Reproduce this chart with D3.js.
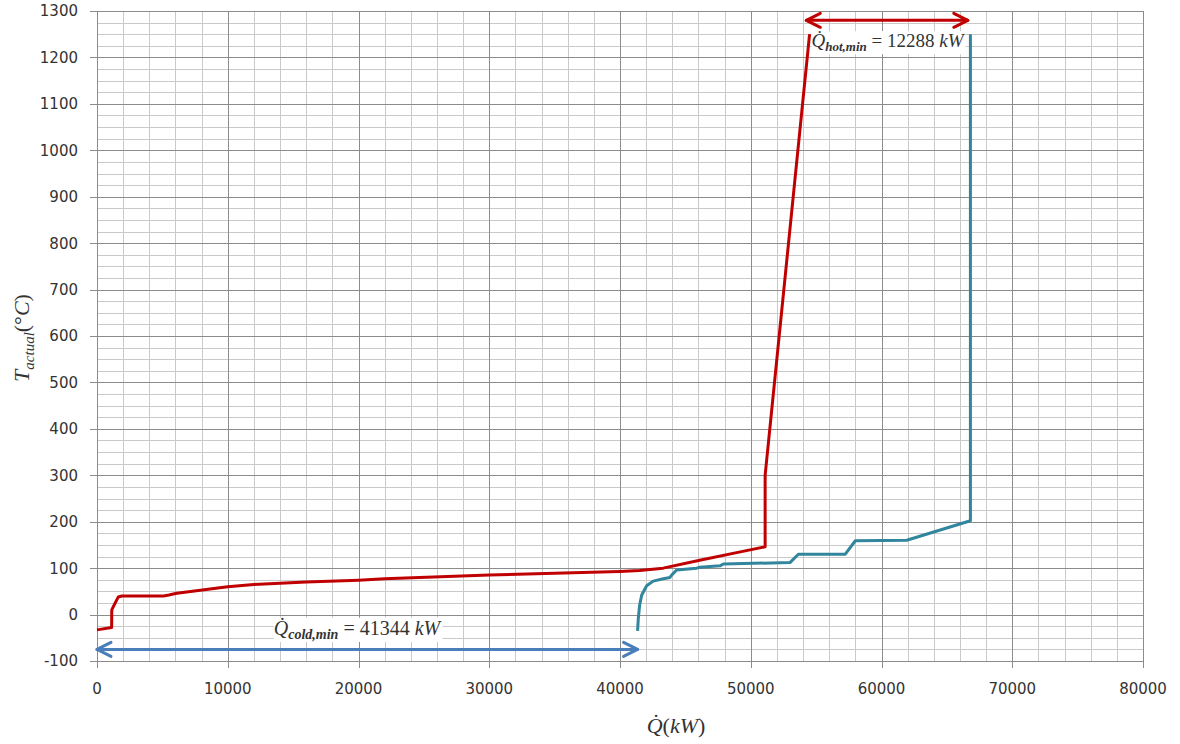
<!DOCTYPE html>
<html>
<head>
<meta charset="utf-8">
<script src="https://cdn.jsdelivr.net/npm/d3@7"></script>
<style>
  body { margin: 0; background: #fff; }
  svg { display: block; }
</style>
</head>
<body>
<div id="chart"></div>
<script>
// hot composite curve (kW, °C)
const hotQ = [0, 1120, 1130, 1250, 1630, 1900, 5100, 5500, 6100, 10000, 12000, 16000, 20000, 22000, 30000, 40000, 41500, 43300, 46100, 49200, 51100, 51100, 54500];
const hotT = [-33, -28, 10, 17, 38, 40, 40, 42, 46, 60, 65, 70, 74, 77, 85, 93, 95, 100, 117, 135, 146, 300, 1250];

// cold composite curve
const coldQ = [41344, 41400, 41500, 41660, 42040, 42540, 43310, 43820, 43950, 44330, 45860, 46120, 47650, 47900, 53000, 53640, 57230, 58000, 61930, 66800, 66800];
const coldT = [-35, -8, 20, 42, 62, 72, 77, 80, 85, 96, 100, 102, 105, 109, 112, 130, 130, 159, 160, 202, 1250];

const xTicks = [0, 10000, 20000, 30000, 40000, 50000, 60000, 70000, 80000];
const yTicks = [-100, 0, 100, 200, 300, 400, 500, 600, 700, 800, 900, 1000, 1100, 1200, 1300];

const hotMin = 12288, coldMin = 41344;
const hotArrowQ = [54250, 66600], hotArrowT = 1280;
const coldArrowQ = [0, 41344], coldArrowT = -75;

let margin = { top: 11, left: 97, right: 37, bottom: 83 },
  width = 1180 - margin.left - margin.right,
  height = 744 - margin.top - margin.bottom;

let svg = d3.select("#chart")
  .append("svg")
    .attr("width", 1180)
    .attr("height", 744);

let g = svg.append("g")
    .attr("transform", "translate(" + margin.left + "," + margin.top + ")");

let x = d3.scaleLinear().domain([0, 80000]).range([0, width]);
let y = d3.scaleLinear().domain([-100, 1300]).range([height, 0]);

// minor grid
g.append("g").selectAll("line")
  .data(d3.range(0, 80001, 2000).filter(d => d % 10000 !== 0))
  .enter().append("line")
    .attr("x1", d => Math.round(x(d)) + 0.5).attr("x2", d => Math.round(x(d)) + 0.5)
    .attr("y1", 0).attr("y2", height)
    .attr("stroke", "#c9c9c9");
g.append("g").selectAll("line")
  .data(d3.range(-100, 1301, 25).filter(d => d % 100 !== 0))
  .enter().append("line")
    .attr("y1", d => Math.round(y(d)) + 0.5).attr("y2", d => Math.round(y(d)) + 0.5)
    .attr("x1", 0).attr("x2", width)
    .attr("stroke", "#c9c9c9");

// major grid
g.append("g").selectAll("line")
  .data(xTicks)
  .enter().append("line")
    .attr("x1", d => Math.round(x(d)) + 0.5).attr("x2", d => Math.round(x(d)) + 0.5)
    .attr("y1", 0).attr("y2", height + 7)
    .attr("stroke", "#8c8c8c");
g.append("g").selectAll("line")
  .data(yTicks)
  .enter().append("line")
    .attr("y1", d => Math.round(y(d)) + 0.5).attr("y2", d => Math.round(y(d)) + 0.5)
    .attr("x1", -7).attr("x2", width)
    .attr("stroke", "#8c8c8c");

// tick labels
g.append("g").selectAll("text")
  .data(xTicks)
  .enter().append("text")
    .attr("x", d => x(d))
    .attr("y", height + 33)
    .attr("text-anchor", "middle")
    .style("font-family", "DejaVu Sans")
    .style("font-size", "15px")
    .style("fill", "#333")
    .text(d => d);
g.append("g").selectAll("text")
  .data(yTicks)
  .enter().append("text")
    .attr("x", -19)
    .attr("y", d => y(d))
    .attr("dy", ".36em")
    .attr("text-anchor", "end")
    .style("font-family", "DejaVu Sans")
    .style("font-size", "15px")
    .style("fill", "#333")
    .text(d => d);

// labels with white boxes
function mathLabel(cx, cy, sub, value, size) {
  let lg = g.append("g");
  let bg = lg.append("rect").attr("fill", "#fff");
  let t = lg.append("text")
    .attr("x", cx).attr("y", cy)
    .attr("text-anchor", "middle")
    .style("font-family", "Liberation Serif")
    .style("font-size", size + "px")
    .style("fill", "#333");
  t.append("tspan").style("font-style", "italic").text("Q\u0307");
  t.append("tspan").attr("dy", 4).style("font-style", "italic").style("font-size", (size - 6) + "px").style("font-weight", "bold").text(sub);
  t.append("tspan").attr("dy", -4).text(" = " + value + " ");
  t.append("tspan").style("font-style", "italic").text("kW");
  let b = t.node().getBBox();
  bg.attr("x", b.x).attr("y", b.y + 1).attr("width", b.width).attr("height", b.height - 1);
}
mathLabel(x(60460), y(1222), "hot,min", hotMin, 19);
mathLabel(x(19885), y(-44), "cold,min", coldMin, 20);

// curves
let line = d3.line().x(d => x(d[0])).y(d => y(d[1]));
g.append("path")
  .datum(hotQ.map((q, i) => [q, hotT[i]]))
  .attr("d", line)
  .attr("fill", "none")
  .attr("stroke", "#c00000")
  .attr("stroke-width", 3)
  .attr("stroke-linejoin", "round");
g.append("path")
  .datum(coldQ.map((q, i) => [q, coldT[i]]))
  .attr("d", line)
  .attr("fill", "none")
  .attr("stroke", "#31859c")
  .attr("stroke-width", 3)
  .attr("stroke-linejoin", "round");

// double arrows
function arrow(q0, q1, t, color) {
  let x0 = x(q0), x1 = x(q1), yy = y(t);
  let a = g.append("g")
    .attr("fill", "none")
    .attr("stroke", color)
    .attr("stroke-width", 3)
    .attr("stroke-linecap", "round")
    .attr("stroke-linejoin", "round");
  a.append("line").attr("x1", x0).attr("x2", x1).attr("y1", yy).attr("y2", yy);
  a.append("path").attr("d", `M${x0 + 14},${yy - 7}L${x0},${yy}L${x0 + 14},${yy + 7}`);
  a.append("path").attr("d", `M${x1 - 14},${yy - 7}L${x1},${yy}L${x1 - 14},${yy + 7}`);
}
arrow(hotArrowQ[0], hotArrowQ[1], hotArrowT, "#c00000");
arrow(coldArrowQ[0], coldArrowQ[1], coldArrowT, "#4a7ebb");

// axis titles
let xl = svg.append("text")
  .attr("x", 676).attr("y", 733)
  .attr("text-anchor", "middle")
  .style("font-family", "Liberation Serif")
  .style("font-size", "22px")
  .style("fill", "#333");
xl.append("tspan").style("font-style", "italic").text("Q\u0307");
xl.append("tspan").text("(");
xl.append("tspan").style("font-style", "italic").text("kW");
xl.append("tspan").text(")");

let yl = svg.append("text")
  .attr("transform", "translate(29,338) rotate(-90)")
  .attr("text-anchor", "middle")
  .style("font-family", "Liberation Serif")
  .style("font-size", "22px")
  .style("fill", "#333");
yl.append("tspan").style("font-style", "italic").text("T");
yl.append("tspan").attr("dy", 5).style("font-style", "italic").style("font-size", "15px").text("actual");
yl.append("tspan").attr("dy", -5).text("(°");
yl.append("tspan").style("font-style", "italic").text("C");
yl.append("tspan").text(")");
</script>
</body>
</html>
